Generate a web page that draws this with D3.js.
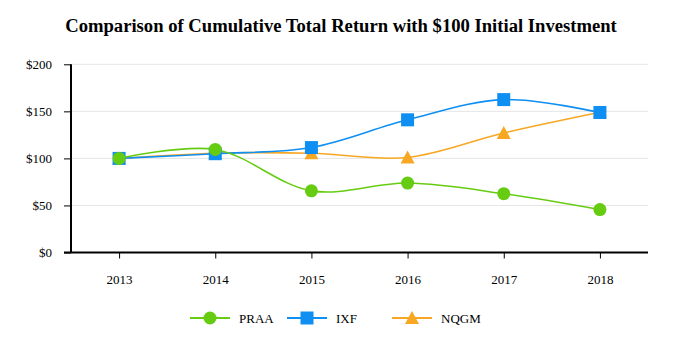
<!DOCTYPE html>
<html><head><meta charset="utf-8">
<script src="https://cdn.jsdelivr.net/npm/d3@7"></script>
<style>body{margin:0;background:#fff}svg{display:block}</style>
</head><body>
<svg id="c" width="682" height="354"></svg>
<script>
const years = ["2013","2014","2015","2016","2017","2018"];
const praa = [100, 109.5, 65.5, 73.8, 62.5, 45.6];
const ixf = [100, 105, 111.5, 141, 162.5, 148.8];
const nqgm = [100, 105.5, 105.5, 101, 127, 149];
const yTicks = [0, 50, 100, 150, 200];
const seriesNames = ["PRAA","IXF","NQGM"];

const colors = {PRAA:"#66cc11", IXF:"#0f8ff2", NQGM:"#f7a722"};
const series = [
  {name:"PRAA", values:praa, shape:"circle"},
  {name:"IXF", values:ixf, shape:"square"},
  {name:"NQGM", values:nqgm, shape:"triangle"}
];
const svg = d3.select("#c");
const font = '"Liberation Serif", "Times New Roman", serif';
const L=71, R=648, T=64.3, B=252.5;
const x = d3.scalePoint().domain(years).range([L,R]).padding(0.5);
const y = d3.scaleLinear().domain([0,200]).range([B,T]);

const title = svg.append("text").attr("x",341).attr("y",32).attr("text-anchor","middle")
  .style("font-family",font).attr("font-weight","bold").attr("font-size",19)
  .text("Comparison of Cumulative Total Return with $100 Initial Investment");
const tw = title.node().getComputedTextLength();
title.attr("font-size", 19*552/tw);

// grid
svg.append("g").selectAll("line").data(yTicks.filter(d=>d>0)).join("line")
  .attr("x1",L).attr("x2",R).attr("y1",d=>y(d)).attr("y2",d=>y(d))
  .attr("stroke","#e6e6e6").attr("stroke-width",1);

const yAxis = svg.append("g").attr("transform",`translate(${L},0)`)
  .call(d3.axisLeft(y).tickValues(yTicks).tickSize(7).tickPadding(12).tickFormat(d=>"$"+d));
yAxis.attr("font-family",null);
yAxis.select(".domain").attr("stroke","#000").attr("stroke-width",2).attr("d",`M0,${T}V${B}`);
yAxis.selectAll("line").attr("stroke","#000");
yAxis.selectAll("text").style("font-family",font).attr("font-size",13).attr("fill","#000");

const xAxis = svg.append("g").attr("transform",`translate(0,${B})`)
  .call(d3.axisBottom(x).tickSize(6).tickPadding(16));
xAxis.attr("font-family",null);
xAxis.select(".domain").attr("stroke","#000").attr("stroke-width",2).attr("d",`M${L-7},0H${R}`);
xAxis.selectAll("line").attr("stroke","#000");
xAxis.selectAll("text").style("font-family",font).attr("font-size",13).attr("fill","#000");

const line = d3.line().x((d,i)=>x(years[i])).y(d=>y(d)).curve(d3.curveCatmullRom.alpha(0.5));

function marker(g, shape, color, cx, cy){
  if(shape==="circle") g.append("circle").attr("cx",cx).attr("cy",cy).attr("r",6.5).attr("fill",color);
  else if(shape==="square") g.append("rect").attr("x",cx-6.5).attr("y",cy-6.5).attr("width",13).attr("height",13).attr("fill",color);
  else g.append("path").attr("d",`M${cx},${cy-7}L${cx+7},${cy+6}L${cx-7},${cy+6}Z`).attr("fill",color);
}

const order = [series[2], series[1], series[0]];
order.forEach(s=>{
  svg.append("path").attr("d",line(s.values)).attr("fill","none").attr("stroke",colors[s.name]).attr("stroke-width",1.6);
});
order.forEach(s=>{
  const g = svg.append("g");
  s.values.forEach((v,i)=>marker(g,s.shape,colors[s.name],x(years[i]),y(v)));
});

// legend
const lg = svg.append("g");
const lx = [210, 307, 412];
series.forEach((s,i)=>{
  const cx = lx[i], cy = 318;
  lg.append("line").attr("x1",cx-20).attr("x2",cx+20).attr("y1",cy).attr("y2",cy).attr("stroke",colors[s.name]).attr("stroke-width",2);
  marker(lg,s.shape,colors[s.name],cx,cy);
  lg.append("text").attr("x",cx+29).attr("y",cy+4.5).style("font-family",font).attr("font-size",13).text(seriesNames[i]);
});
</script>
</body></html>
